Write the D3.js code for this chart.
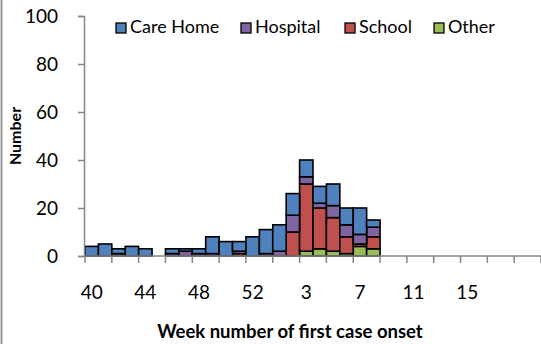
<!DOCTYPE html>
<html>
<head>
<meta charset="utf-8">
<script src="https://cdn.jsdelivr.net/npm/d3@7"></script>
<style>
  body { margin: 0; background: #fff; }
  svg { display: block; font-family: Lato, "Open Sans", sans-serif; }
</style>
</head>
<body>
<div id="chart"></div>
<script>
const weeks = [40,41,42,43,44,45,46,47,48,49,50,51,52,53,1,2,3,4,5,6,7,8,9,10,11,12,13,14,15,16,17,18,19,20];
const careHome = [4,5,2,4,3,0,2,1,2,7,6,4,8,10,11,9,7,7,9,7,11,3,0,0,0,0,0,0,0,0,0,0,0,0];
const hospital = [0,0,1,0,0,0,1,2,1,1,0,1,0,1,2,7,3,2,5,5,4,4,0,0,0,0,0,0,0,0,0,0,0,0];
const school   = [0,0,0,0,0,0,0,0,0,0,0,1,0,0,0,10,28,17,14,7,1,5,0,0,0,0,0,0,0,0,0,0,0,0];
const other    = [0,0,0,0,0,0,0,0,0,0,0,0,0,0,0,0,2,3,2,1,4,3,0,0,0,0,0,0,0,0,0,0,0,0];
const labelWeeks = [40,44,48,52,3,7,11,15];
const yTicks = [0,20,40,60,80,100];

const seriesNames = ["Care Home","Hospital","School","Other"];
const colors = {"Care Home":"#4F81BD","Hospital":"#8064A2","School":"#C0504D","Other":"#9BBB59"};

const width = 541, height = 344;
const svg = d3.select("#chart").append("svg").attr("width", width).attr("height", height);

// left figure border
svg.append("line").attr("x1",1.5).attr("x2",1.5).attr("y1",0).attr("y2",height)
  .attr("stroke","#9a9a9a").attr("stroke-width",2);

const x = d3.scaleBand().domain(d3.range(weeks.length)).range([85, 541]).padding(0);
const y = d3.scaleLinear().domain([0,100]).range([256, 16]);

const rows = weeks.map((w,i) => ({i, "Care Home": careHome[i], "Hospital": hospital[i], "School": school[i], "Other": other[i]}));
// stacked from bottom: Other, School, Hospital, Care Home
const stack = d3.stack().keys(["Other","School","Hospital","Care Home"]);
const layers = stack(rows);

svg.append("g").selectAll("g")
  .data(layers)
  .join("g")
  .attr("fill", d => colors[d.key])
  .selectAll("rect")
  .data(d => d.filter(p => p[1] > p[0]))
  .join("rect")
  .attr("x", d => x(d.data.i))
  .attr("width", x.bandwidth())
  .attr("y", d => y(d[1]))
  .attr("height", d => y(d[0]) - y(d[1]))
  .attr("stroke", "#000")
  .attr("stroke-width", 1.6);

// y axis
const yAxis = svg.append("g").attr("transform", "translate(84,0)")
  .call(d3.axisLeft(y).tickValues(yTicks).tickSize(6).tickPadding(20));
yAxis.select(".domain").attr("stroke","#868686").attr("stroke-width",1.5);
yAxis.selectAll(".tick line").attr("stroke","#868686").attr("stroke-width",1.5);
yAxis.selectAll(".tick text").attr("font-size",19).attr("fill","#000")
  .attr("font-family","Lato, 'Open Sans', sans-serif");

// x axis
const xg = svg.append("g").attr("transform", "translate(0,256)");
xg.append("line").attr("x1",84).attr("x2",541).attr("stroke","#868686").attr("stroke-width",1.5);
const tickIdx = d3.range(0, weeks.length + 1, 2);
xg.selectAll("line.tk").data(tickIdx).join("line").attr("class","tk")
  .attr("x1", i => i < weeks.length ? x(i) : x.range()[1])
  .attr("x2", i => i < weeks.length ? x(i) : x.range()[1])
  .attr("y1",0).attr("y2",7).attr("stroke","#868686").attr("stroke-width",1.5);
xg.selectAll("text").data(labelWeeks).join("text")
  .attr("x", w => x(weeks.indexOf(w)) + x.bandwidth()/2)
  .attr("y", 43)
  .attr("text-anchor","middle")
  .attr("font-size",19)
  .text(d => d);

// axis titles
svg.append("text").attr("transform","translate(21,136) rotate(-90)")
  .attr("text-anchor","middle").attr("font-size",16).attr("font-weight","bold").text("Number");
svg.append("text").attr("x",290).attr("y",338)
  .attr("text-anchor","middle").attr("font-size",18.5).attr("font-weight","bold").text("Week number of first case onset");

// legend
const legendX = [116, 241, 345, 434];
const lg = svg.append("g").selectAll("g").data(seriesNames).join("g")
  .attr("transform", (d,i) => `translate(${legendX[i]},23)`);
lg.append("rect").attr("width",10).attr("height",10)
  .attr("fill", d => colors[d]).attr("stroke","#000").attr("stroke-width",1.3);
lg.append("text").attr("x",14).attr("y",10).attr("font-size",18).text(d => d);
</script>
</body>
</html>
